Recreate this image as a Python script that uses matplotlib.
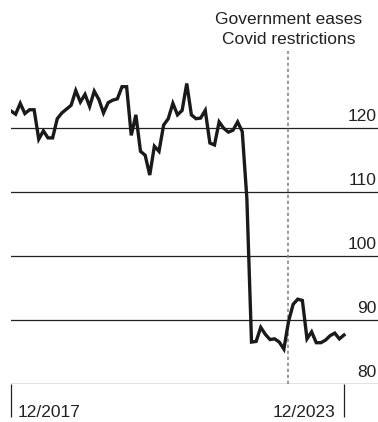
import matplotlib
matplotlib.use("Agg")
import matplotlib.pyplot as plt

plt.rcParams['font.family'] = ['Liberation Sans', 'DejaVu Sans']

# monthly index, 12/2017 .. 12/2023
index_values = [
    122.7, 122.2, 123.9, 122.3, 122.9, 122.9, 118.3, 119.6, 118.5, 118.5,
    121.5, 122.4, 123.0, 123.6, 125.9, 124.1, 125.3, 123.4, 125.8, 124.5,
    122.4, 124.0, 124.4, 124.6, 126.5, 126.5, 118.9, 122.1, 116.4, 115.8,
    112.7, 117.2, 116.4, 120.5, 121.5, 123.9, 122.1, 122.8, 127.0, 122.1,
    121.5, 121.6, 122.8, 117.7, 117.4, 121.0, 120.0, 119.4, 119.7, 121.0,
    119.5, 109.0, 86.6, 86.7, 88.9, 87.8, 87.0, 87.1, 86.6, 85.5,
    89.8, 92.5, 93.3, 93.1, 87.1, 88.2, 86.5, 86.5, 86.9, 87.6,
    88.0, 87.1, 87.7,
]
months = list(range(len(index_values)))

x_tick_pos = [0, 72]
x_tick_labels = ["12/2017", "12/2023"]
y_grid = [80, 90, 100, 110, 120]
y_labels = ["80", "90", "100", "110", "120"]

event_month = 60
event_lines = ["Government eases", "Covid restrictions"]

W, H = 378, 422
fig = plt.figure(figsize=(W / 100, H / 100), dpi=100)
base_px = 384.3
px_per_unit = 6.4
px_per_month = 4.625
ax = fig.add_axes([11 / W, (H - base_px) / H, (W - 11) / W, base_px / H])
ax.set_xlim(0, (W - 11) / px_per_month)
ax.set_ylim(80, 80 + base_px / px_per_unit)
for s in ax.spines.values():
    s.set_visible(False)

fs = 12.5
for v, lab in zip(y_grid, y_labels):
    ax.axhline(v, color='#222222', lw=0.9, zorder=1)
    ax.annotate(lab, xy=(79.1, v), xytext=(0, 5), textcoords='offset points',
                ha='right', va='baseline', fontsize=fs, color='#222222',
                annotation_clip=False)

ax.plot([event_month, event_month], [80, 132.1], color='#8a8a8a', lw=1.2,
        linestyle=(0, (2, 1.6)), zorder=2)
ax.text(event_month, 136.3, event_lines[0], ha='center', va='baseline',
        fontsize=fs, color='#222222')
ax.text(event_month, 133.2, event_lines[1], ha='center', va='baseline',
        fontsize=fs, color='#222222')

ax.plot(months, index_values, color='#1a1a1a', lw=2.4,
        solid_joinstyle='miter', zorder=3)

ax.set_yticks([])
ax.set_xticks(x_tick_pos)
ax.set_xticklabels([])
ax.tick_params(axis='x', length=24, width=0.9, color='#222222', direction='out')

ax.annotate(x_tick_labels[0], xy=(x_tick_pos[0], 80), xytext=(5, -23.3),
            textcoords='offset points', ha='left', va='baseline',
            fontsize=fs, color='#222222', annotation_clip=False)
ax.annotate(x_tick_labels[1], xy=(x_tick_pos[1], 80), xytext=(-6.5, -23.3),
            textcoords='offset points', ha='right', va='baseline',
            fontsize=fs, color='#222222', annotation_clip=False)

fig.savefig("out.png", dpi=100)
